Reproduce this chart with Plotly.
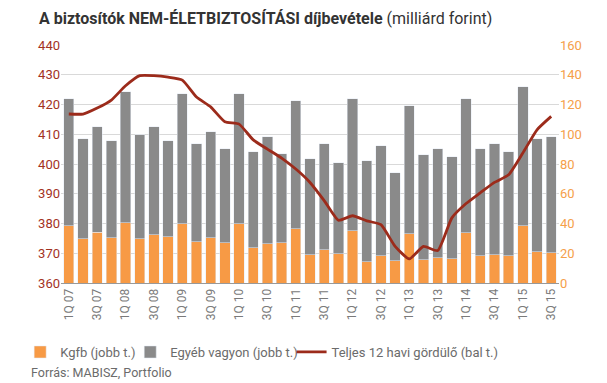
import plotly.graph_objects as go

quarters = [f"{q}Q {y:02d}" for y in range(7, 16) for q in range(1, 5)][:35]

total_bar = [123.9, 97.0, 105.0, 95.6, 128.6, 99.8, 105.0, 95.6, 127.3, 93.6,
             101.8, 90.3, 127.3, 88.3, 98.4, 86.9, 122.6, 83.6, 93.7, 80.9,
             123.9, 82.2, 92.3, 74.2, 119.2, 86.3, 90.3, 84.9, 123.9, 90.3,
             93.7, 88.3, 132.0, 97.0, 98.4]
kgfb = [38.6, 29.8, 34.0, 30.4, 40.6, 29.8, 32.5, 31.2, 39.9, 27.8,
        30.4, 27.1, 39.9, 23.8, 26.4, 27.1, 36.6, 19.0, 22.4, 19.7,
        35.2, 14.3, 18.4, 15.0, 33.2, 15.7, 17.0, 16.4, 33.8, 18.4,
        19.0, 18.4, 38.5, 21.1, 20.4]
egyeb = [round(t - k, 1) for t, k in zip(total_bar, kgfb)]
teljes = [416.8, 416.8, 418.8, 421.5, 426.3, 429.7, 429.7, 429.2, 428.2, 422.5,
          419.2, 414.2, 413.4, 408.1, 405.0, 402.0, 398.3, 393.8, 387.7, 381.1,
          382.6, 380.9, 379.6, 372.3, 368.1, 372.3, 370.9, 381.9, 386.7, 390.3,
          393.8, 396.4, 403.7, 411.5, 416.0]

ORANGE = "#f79a45"
GRAY = "#8a8a8a"
RED = "#9c2b1b"

fig = go.Figure()
fig.add_trace(go.Bar(x=quarters, y=kgfb, name="Kgfb (jobb t.)", marker_color=ORANGE,
                     yaxis="y", legend="legend"))
fig.add_trace(go.Bar(x=quarters, y=egyeb, name="Egyéb vagyon (jobb t.)", marker_color=GRAY,
                     yaxis="y", legend="legend2"))
fig.add_trace(go.Scatter(x=quarters, y=teljes, name="Teljes 12 havi gördülő (bal t.)",
                         mode="lines", line=dict(color=RED, width=2.8, shape="spline", smoothing=0.5),
                         yaxis="y2", legend="legend3"))

leg_common = dict(orientation="h", y=-0.29, yanchor="middle", xanchor="left",
                  font=dict(size=13, color="#6b6b6b"), bgcolor="rgba(0,0,0,0)",
                  itemwidth=30)

fig.update_layout(
    width=599, height=375,
    margin=dict(l=35, r=48, t=37, b=100),
    paper_bgcolor="white", plot_bgcolor="white",
    barmode="stack", bargap=0.27,
    font=dict(family="Roboto", color="#666666"),
    title=dict(text="<b>A biztosítók NEM-ÉLETBIZTOSÍTÁSI díjbevétele</b> (milliárd forint)",
               font=dict(size=16, color="#333333", family="Roboto"),
               x=31 / 599, xref="container", xanchor="left",
               y=1 - 10 / 375, yref="container", yanchor="middle"),
    xaxis=dict(type="category", tickvals=quarters[::2], ticktext=quarters[::2],
               tickangle=-90, tickfont=dict(size=12, color="#7a7a7a"),
               showgrid=False, showline=True, linecolor="#999999", linewidth=1,
               ticks="", range=[-0.55, 34.55]),
    yaxis=dict(side="right", range=[0, 160], dtick=20, showgrid=True,
               gridcolor="#d9d9d9", gridwidth=1, zeroline=False,
               tickfont=dict(size=13, color="#f5a04a"), ticks=""),
    yaxis2=dict(side="left", overlaying="y", range=[360, 440], dtick=10,
                showgrid=False, zeroline=False,
                tickfont=dict(size=13, color="#a3321f"), ticks=""),
    legend=dict(x=-0.082, **leg_common),
    legend2=dict(x=0.139, **leg_common),
    legend3=dict(x=0.463, **leg_common),
    showlegend=True,
)

fig.add_annotation(xref="paper", yref="paper", x=-0.065, y=-0.375, xanchor="left",
                   yanchor="middle", showarrow=False,
                   text="Forrás: MABISZ, Portfolio",
                   font=dict(size=12.5, color="#6b6b6b", family="Roboto"))

fig.write_html("out.html")
